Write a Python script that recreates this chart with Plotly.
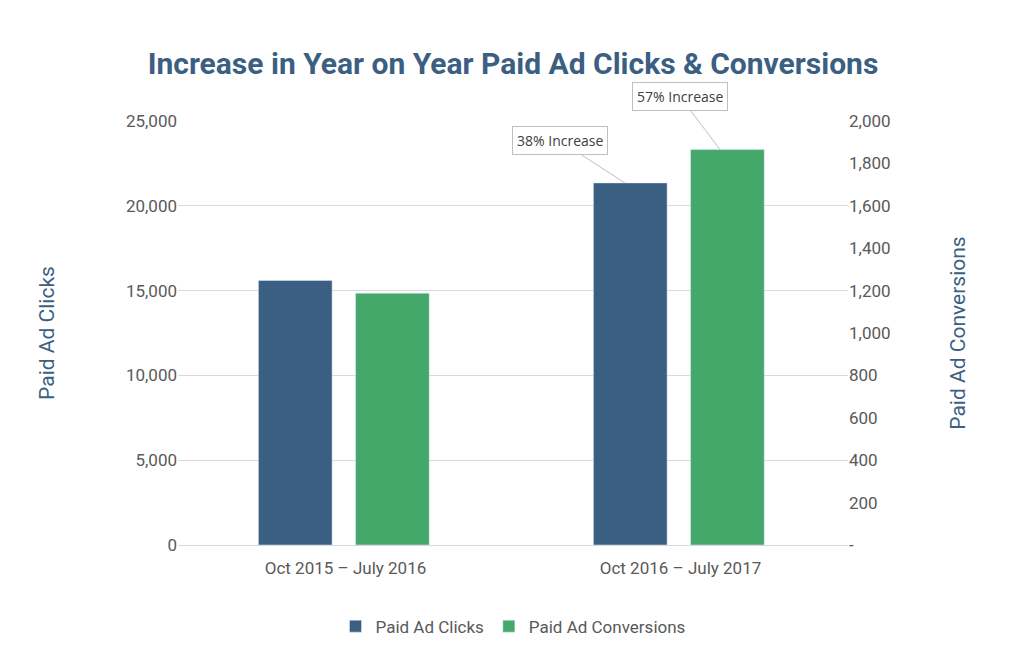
import plotly.graph_objects as go

periods = ["Oct 2015 – July 2016", "Oct 2016 – July 2017"]
clicks = [15600, 21350]
conversions = [1188, 1865]
callouts = ["38% Increase", "57% Increase"]

blue = "#3b5f82"
green = "#45a86b"
text_col = "#595959"

fig = go.Figure()
fig.add_trace(go.Bar(name="Paid Ad Clicks", x=periods, y=clicks, marker_color=blue,
                     width=0.22, offset=-0.26, yaxis="y"))
fig.add_trace(go.Bar(name="Paid Ad Conversions", x=periods, y=conversions, marker_color=green,
                     width=0.22, offset=0.03, yaxis="y2"))

# callout boxes pointing at the second-year bars
fig.add_annotation(x=0.667, y=clicks[1] / 25000, xref="paper", yref="paper", text=callouts[0],
                   ax=-65, ay=-42, showarrow=True, arrowhead=0, arrowwidth=1, arrowcolor="#bfbfbf",
                   bgcolor="white", bordercolor="#bfbfbf", borderwidth=1, borderpad=4,
                   font=dict(family="Open Sans", size=14, color="#404040"))
fig.add_annotation(x=0.809, y=conversions[1] / 2000, xref="paper", yref="paper", text=callouts[1],
                   ax=-40, ay=-53, showarrow=True, arrowhead=0, arrowwidth=1, arrowcolor="#bfbfbf",
                   bgcolor="white", bordercolor="#bfbfbf", borderwidth=1, borderpad=4,
                   font=dict(family="Open Sans", size=14, color="#404040"))

right_vals = list(range(0, 2001, 200))
right_text = ["-"] + [f"{v:,}" for v in right_vals[1:]]

fig.update_layout(
    width=1010, height=655,
    margin=dict(l=170, r=170, t=113, b=118),
    paper_bgcolor="white", plot_bgcolor="white",
    font=dict(family="Roboto", size=17, color=text_col),
    title=dict(text="<b>Increase in Year on Year Paid Ad Clicks & Conversions</b>",
               x=0.5, xanchor="center", y=0.915, yanchor="middle",
               font=dict(family="Roboto", size=30, color="#3b5f82")),
    barmode="overlay",
    xaxis=dict(showline=True, linecolor="#d9d9d9", ticks="outside", ticklen=8, tickcolor="white"),
    yaxis=dict(range=[0, 25000], dtick=5000, tickformat=",", gridcolor="#d9d9d9",
               title=dict(text="Paid Ad Clicks", font=dict(size=21, color=blue), standoff=65),
               zeroline=False),
    yaxis2=dict(range=[0, 2000], overlaying="y", side="right", tickvals=right_vals,
                ticktext=right_text, showgrid=False, zeroline=False,
                title=dict(text="Paid Ad Conversions", font=dict(size=21, color=blue), standoff=60)),
    legend=dict(orientation="h", x=0.5, xanchor="center", y=-0.15, yanchor="top",
                font=dict(size=17, color=text_col)),
    shapes=[dict(type="rect", xref="paper", yref="paper", x0=-0.265, x1=1.265, y0=-0.296, y1=1.285,
                 line=dict(color="#d9d9d9", width=1))],
)

fig.write_html("out.html")
